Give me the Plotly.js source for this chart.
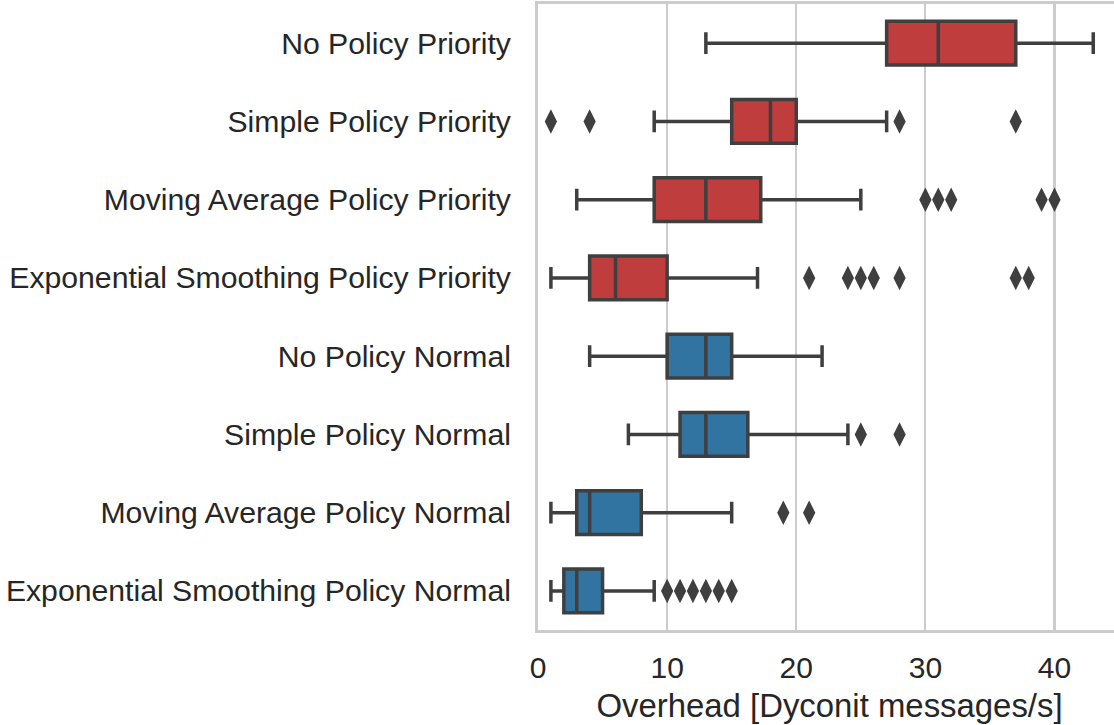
<!DOCTYPE html>
<html>
<head>
<meta charset="utf-8">
<script src="https://cdn.plot.ly/plotly-3.0.1.min.js"></script>
<style>
html,body{margin:0;padding:0;overflow:hidden;background:#fff;}
#chart{width:1125px;height:725px;}
</style>
</head>
<body>
<div id="chart"></div>
<script>
// Categories (top to bottom)
const categories = [
  "No Policy Priority",
  "Simple Policy Priority",
  "Moving Average Policy Priority",
  "Exponential Smoothing Policy Priority",
  "No Policy Normal",
  "Simple Policy Normal",
  "Moving Average Policy Normal",
  "Exponential Smoothing Policy Normal"
];

// Box statistics per category (same order)
const lowerWhisker = [13, 9, 3, 1, 4, 7, 1, 1];
const q1Values     = [27, 15, 9, 4, 10, 11, 3, 2];
const medians      = [31, 18, 13, 6, 13, 13, 4, 3];
const q3Values     = [37, 20, 17.25, 10, 15, 16.25, 8, 5];
const upperWhisker = [43, 27, 25, 17, 22, 24, 15, 9];

// Outliers per category
const outliersNoPolicyPriority = [];
const outliersSimplePolicyPriority = [1, 4, 28, 37];
const outliersMovingAveragePolicyPriority = [30, 31, 32, 39, 40];
const outliersExpSmoothingPolicyPriority = [21, 24, 25, 26, 28, 37, 38];
const outliersNoPolicyNormal = [];
const outliersSimplePolicyNormal = [25, 28];
const outliersMovingAveragePolicyNormal = [19, 21];
const outliersExpSmoothingPolicyNormal = [10, 11, 12, 13, 14, 15];

const outlierLists = [
  outliersNoPolicyPriority,
  outliersSimplePolicyPriority,
  outliersMovingAveragePolicyPriority,
  outliersExpSmoothingPolicyPriority,
  outliersNoPolicyNormal,
  outliersSimplePolicyNormal,
  outliersMovingAveragePolicyNormal,
  outliersExpSmoothingPolicyNormal
];

const xTickValues = [0, 10, 20, 30, 40];
const xTitle = "Overhead [Dyconit messages/s]";

const RED = "#c03d3e";
const BLUE = "#3274a1";
const LINE = "#3f3f3f";
const TEXT = "#262626";
const FONT = "'Liberation Sans', Arial, sans-serif";

function boxTrace(idx, color) {
  return {
    type: "box",
    orientation: "h",
    y: idx.map(i => categories[i]),
    q1: idx.map(i => q1Values[i]),
    median: idx.map(i => medians[i]),
    q3: idx.map(i => q3Values[i]),
    lowerfence: idx.map(i => lowerWhisker[i]),
    upperfence: idx.map(i => upperWhisker[i]),
    boxpoints: false,
    fillcolor: color,
    line: {color: LINE, width: 3.5},
    whiskerwidth: 0.5,
    showlegend: false,
    hoverinfo: "skip"
  };
}

const ox = [], oy = [];
outlierLists.forEach((arr, i) => {
  arr.forEach(v => { ox.push(v); oy.push(categories[i]); });
});

const traces = [
  boxTrace([0,1,2,3], RED),
  boxTrace([4,5,6,7], BLUE),
  {
    type: "scatter",
    mode: "markers",
    x: ox,
    y: oy,
    marker: {symbol: "diamond-tall", size: 17.5, color: LINE, line: {width: 0}},
    showlegend: false,
    hoverinfo: "skip"
  }
];

const layout = {
  width: 1125,
  height: 725,
  margin: {l: 538, r: 4, t: 4, b: 95},
  paper_bgcolor: "#ffffff",
  plot_bgcolor: "#ffffff",
  font: {family: FONT, color: TEXT, size: 30},
  boxmode: "overlay",
  boxgap: 0.2,
  showlegend: false,
  xaxis: {
    range: [0, 45.15],
    tickvals: xTickValues,
    ticktext: xTickValues.map(String),
    ticks: "",
    showgrid: true,
    gridcolor: "#cccccc",
    gridwidth: 2.2,
    zeroline: false,
    showline: true,
    linecolor: "#cccccc",
    linewidth: 3,
    mirror: true,
    tickfont: {family: FONT, size: 30, color: TEXT},
    ticklabelstandoff: 9,
    title: {text: xTitle, font: {family: FONT, size: 32.9, color: TEXT}, standoff: 11}
  },
  yaxis: {
    type: "category",
    categoryorder: "array",
    categoryarray: categories,
    range: [7.5, -0.5],
    showgrid: false,
    zeroline: false,
    ticks: "",
    showline: true,
    linecolor: "#cccccc",
    linewidth: 3,
    mirror: true,
    tickfont: {family: FONT, size: 30.2, color: TEXT},
    ticklabelstandoff: 18
  }
};

Plotly.newPlot("chart", traces, layout, {displayModeBar: false, staticPlot: true});
</script>
</body>
</html>
